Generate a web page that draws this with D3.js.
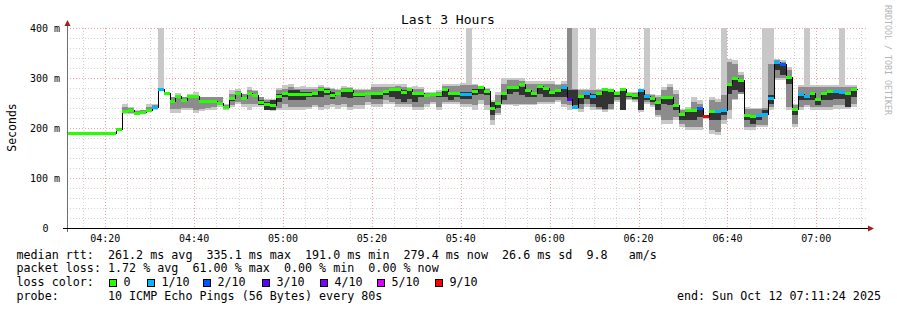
<!DOCTYPE html>
<html>
<head>
<meta charset="utf-8">
<script src="https://d3js.org/d3.v7.min.js"></script>
<style>
  html, body { margin: 0; padding: 0; background: #fff; }
  svg text { font-family: "DejaVu Sans Mono", monospace; white-space: pre; }
</style>
</head>
<body>
<svg class="chart"></svg>
<script>
// one entry per 80 s probe round, oldest first (ms)
var median = [
  191,191,191,191,191,191,191,191,191,199,
  234,237,231,233,236,243,279,271,255,265,
  257,265,265,255,255,255,251,243,261,271,
  261,271,267,253,249,247,265,271,268,268,
  268,269,270,279,275,267,270,277,277,269,
  269,271,271,271,275,278,278,273,279,271,
  271,266,269,268,278,271,271,269,269,275,
  283,274,241,251,270,283,283,288,276,271,
  285,281,273,277,283,258,243,264,271,265,
  271,278,276,271,278,269,267,277,265,261,
  253,263,263,247,229,236,236,241,224,235,
  234,237,289,299,295,227,225,226,229,261,
  333,328,303,239,269,265,271,259,271,275,
  275,272,271,278
];
// lost pings out of 10
var lossCount = [
  0,0,0,0,0,0,0,0,0,0,
  0,0,0,0,0,1,1,0,0,0,
  0,0,0,0,0,0,0,0,0,0,
  0,0,0,0,0,0,0,0,0,0,
  0,0,0,0,0,0,0,0,0,0,
  0,0,0,0,0,0,0,0,0,0,
  0,0,0,0,0,0,0,1,1,0,
  0,0,0,0,0,0,0,0,0,0,
  0,0,0,0,1,3,1,0,1,1,
  0,0,0,0,0,0,0,1,1,0,
  0,0,0,0,0,0,0,2,9,0,
  1,1,0,0,0,0,0,1,1,1,
  1,2,0,0,1,1,0,0,0,0,
  1,1,0,0
];
// smoke: spread of the 10 pings per round (ms)
var pingMax = [
  191,191,191,191,191,191,191,191,191,201,
  248,243,236,237,248,249,400,273,263,271,
  263,269,273,263,263,263,263,249,277,279,
  269,283,276,263,259,258,281,286,288,283,
  284,283,283,286,283,281,279,284,283,279,
  279,279,288,288,288,288,289,289,283,284,
  283,273,273,276,289,289,289,291,400,289,
  285,281,256,273,299,301,301,299,293,293,
  293,293,293,289,293,400,400,279,279,400,
  279,279,279,275,280,273,273,279,400,269,
  266,283,289,276,239,243,263,256,226,263,
  259,400,339,336,313,243,241,241,400,400,
  339,336,323,249,286,400,286,286,286,286,
  286,400,286,286
];
var pingUpper = [
  191,191,191,191,191,191,191,191,191,200,
  243,241,235,236,243,247,281,272,262,266,
  262,266,266,262,262,262,262,247,269,274,
  268,276,275,262,256,256,276,279,283,279,
  279,279,279,283,281,279,276,281,281,276,
  276,276,283,283,283,283,284,283,281,279,
  279,271,271,273,284,284,284,286,286,286,
  283,279,253,266,289,296,296,294,289,289,
  289,289,289,286,289,400,279,276,276,276,
  276,276,276,273,276,271,271,276,269,266,
  263,276,283,269,236,239,253,249,225,256,
  253,266,333,329,306,239,239,239,241,329,
  336,333,316,246,283,283,283,283,283,283,
  283,283,283,283
];
var coreHigh = [
  191,191,191,191,191,191,191,191,191,200,
  236,239,232,234,237,245,280,272,257,266,
  259,266,266,257,257,257,253,245,263,273,
  263,273,269,256,253,256,269,273,276,276,
  273,273,273,279,279,273,273,277,277,271,
  271,273,273,273,277,279,279,276,279,271,
  273,269,271,271,279,271,273,273,273,279,
  283,276,253,249,269,279,283,283,273,273,
  283,276,273,275,281,276,276,263,273,269,
  269,276,273,269,275,269,266,275,263,259,
  249,259,259,246,226,233,233,239,225,233,
  233,236,286,296,293,226,223,223,236,266,
  329,325,299,237,266,263,268,257,268,273,
  271,269,268,275
];
var coreLow = [
  191,191,191,191,191,191,191,191,191,198,
  233,235,230,232,235,241,278,270,253,263,
  255,263,263,253,253,253,249,241,255,266,
  259,266,263,246,236,236,253,263,256,256,
  256,263,263,263,266,259,266,263,261,263,
  263,266,259,259,266,263,259,253,259,253,
  263,263,266,263,263,256,263,259,259,266,
  269,266,226,240,256,269,273,266,263,263,
  269,263,263,263,263,256,246,249,259,249,
  243,239,249,263,236,263,259,236,256,253,
  236,249,246,236,216,216,216,223,223,216,
  216,226,269,276,273,216,209,216,226,249,
  316,306,289,226,256,256,256,246,256,256,
  259,259,243,263
];
var pingLower = [
  191,191,191,191,191,191,191,191,191,198,
  231,231,229,231,233,238,277,270,238,238,
  240,240,236,238,240,243,246,238,246,253,
  249,249,249,246,236,236,240,249,243,243,
  243,243,246,243,246,249,246,249,243,246,
  246,253,249,249,256,253,249,249,249,243,
  243,249,253,243,253,253,253,249,249,246,
  256,246,216,230,249,249,249,249,249,249,
  253,253,253,256,249,246,243,239,249,243,
  239,236,239,256,236,259,256,236,253,246,
  226,216,216,223,209,203,203,203,222,196,
  193,216,236,259,269,203,203,206,206,243,
  299,299,243,209,243,246,243,243,243,243,
  246,246,243,249
];
var pingMin = [
  191,191,191,191,191,191,191,191,191,197,
  229,229,229,230,232,236,276,269,231,231,
  236,236,231,234,236,236,243,236,243,249,
  243,236,243,243,236,234,236,236,236,236,
  236,239,243,236,239,243,239,243,236,239,
  239,246,243,243,249,249,243,243,243,236,
  236,243,249,236,249,249,249,243,243,236,
  249,236,206,226,246,246,244,246,246,246,
  249,249,249,253,243,236,239,233,243,236,
  236,233,236,253,236,256,253,233,249,243,
  223,209,209,216,203,196,196,196,219,189,
  186,209,219,256,269,196,196,203,203,236,
  296,296,236,203,236,243,236,236,236,236,
  239,239,239,243
];

var lossLevels = [0, 1, 2, 3, 4, 5, 9];
var lossLabels = ["0", "1/10", "2/10", "3/10", "4/10", "5/10", "9/10"];
var lossColors = ["#26ff00", "#00b8ff", "#0059ff", "#5e00ff", "#7e00ff", "#dd00ff", "#ff0000"];
var lossKeyX = [109, 147, 203, 262, 320, 377, 435];

var statsLines = [
  "median rtt:  261.2 ms avg  335.1 ms max  191.0 ms min  279.4 ms now  26.6 ms sd  9.8   am/s",
  "packet loss: 1.72 % avg  61.00 % max  0.00 % min  0.00 % now",
  "loss color:",
  "probe:       10 ICMP Echo Pings (56 Bytes) every 80s"
];

var W = 897, H = 310;
var start = new Date(2025, 9, 12, 4, 11, 24),
    end = new Date(2025, 9, 12, 7, 11, 24),
    firstStep = new Date(start.getTime() - 56000),
    stepMs = 80000;

var svg = d3.select(".chart").attr("width", W).attr("height", H);
svg.append("rect").attr("width", W).attr("height", H).attr("fill", "#fff");

var x = d3.scaleTime().domain([start, end]).range([67, 867]);
var y = d3.scaleLinear().domain([0, 400]).range([228, 28]);

function t0(i) { return new Date(firstStep.getTime() + i * stepMs); }
function px(d) { return Math.round(x(d)) + 0.5; }

// grid
var grid = svg.append("g").attr("shape-rendering", "crispEdges");
grid.selectAll(".hmin").data(y.ticks(20).filter(function(v) { return v % 100; }))
  .enter().append("line")
  .attr("x1", 67).attr("x2", 868)
  .attr("y1", function(d) { return y(d) + 0.5; }).attr("y2", function(d) { return y(d) + 0.5; })
  .attr("stroke", "#d2d2d2").attr("stroke-dasharray", "1,2");
var minorX = x.ticks(d3.timeMinute.every(5)).filter(function(d) { return d.getMinutes() % 20; });
grid.selectAll(".vmin").data(minorX).enter().append("line")
  .attr("x1", px).attr("x2", px).attr("y1", 28).attr("y2", 228)
  .attr("stroke", "#d2d2d2").attr("stroke-dasharray", "1,2");
grid.selectAll(".hmaj").data(y.ticks(4).filter(function(v) { return v > 0; }))
  .enter().append("line")
  .attr("x1", 67).attr("x2", 868)
  .attr("y1", function(d) { return y(d) + 0.5; }).attr("y2", function(d) { return y(d) + 0.5; })
  .attr("stroke", "#f0a0a0").attr("stroke-dasharray", "1,2");
grid.selectAll(".vmaj").data(x.ticks(d3.timeMinute.every(20))).enter().append("line")
  .attr("x1", px).attr("x2", px).attr("y1", 28).attr("y2", 228)
  .attr("stroke", "#f0a0a0").attr("stroke-dasharray", "1,2");

// plot clip
svg.append("defs").append("clipPath").attr("id", "clip")
  .append("rect").attr("x", 67).attr("y", 28).attr("width", 801).attr("height", 200);
var g = svg.append("g").attr("clip-path", "url(#clip)").attr("shape-rendering", "crispEdges");

var steps = d3.range(median.length);
function stepX(i) { return Math.round(x(t0(i))); }
function stepW(i) { return Math.round(x(t0(i + 1))) - Math.round(x(t0(i))); }

function band(lo, hi, color) {
  g.append("g").selectAll("rect").data(steps).enter().append("rect")
    .attr("x", stepX).attr("width", stepW)
    .attr("y", function(i) { return Math.round(y(hi[i])); })
    .attr("height", function(i) { return Math.round(y(lo[i])) - Math.round(y(hi[i])); })
    .attr("fill", color);
}
band(pingMin, pingMax, "#c8c8c8");
band(pingLower, pingUpper, "#8c8c8c");
band(coreLow, coreHigh, "#333333");

// median step line
var pts = steps.map(function(i) { return [x(t0(i)), median[i]]; });
pts.push([x(t0(median.length)), median[median.length - 1]]);
var line = d3.line().curve(d3.curveStepAfter)
  .x(function(d) { return Math.round(d[0]) + 0.5; })
  .y(function(d) { return Math.round(y(d[1])) + 0.5; });
g.append("path").datum(pts).attr("d", line)
  .attr("fill", "none").attr("stroke", "#000").attr("stroke-width", 1);

// median coloured by loss
g.append("g").selectAll("rect").data(steps).enter().append("rect")
  .attr("x", stepX).attr("width", stepW)
  .attr("y", function(i) { return Math.round(y(median[i])) - 1; })
  .attr("height", 3)
  .attr("fill", function(i) { return lossColors[lossLevels.indexOf(lossCount[i])]; });

// axes
var ax = svg.append("g").attr("shape-rendering", "crispEdges");
ax.append("line").attr("x1", 67.5).attr("x2", 67.5).attr("y1", 232).attr("y2", 25)
  .attr("stroke", "#6e6e6e");
ax.append("line").attr("x1", 63).attr("x2", 869).attr("y1", 228.5).attr("y2", 228.5)
  .attr("stroke", "#000");
svg.append("path").attr("d", "M868,225.5L874,228.5L868,231.5Z").attr("fill", "#a0201c");
svg.append("path").attr("d", "M64.5,26L67.5,20L70.5,26Z").attr("fill", "#a0201c");

// tick labels
svg.append("g").selectAll("text").data(y.ticks(4)).enter().append("text")
  .attr("x", function(d) { return d ? 60 : 48.5; })
  .attr("y", function(d) { return y(d) + 3.5; })
  .attr("text-anchor", "end").attr("font-size", 10).attr("fill", "#000")
  .text(function(d) { return d ? d + " m" : "0"; });
var fmt = d3.timeFormat("%H:%M");
svg.append("g").selectAll("text").data(x.ticks(d3.timeMinute.every(20))).enter().append("text")
  .attr("x", function(d) { return x(d); }).attr("y", 242)
  .attr("text-anchor", "middle").attr("font-size", 10).attr("fill", "#000")
  .text(fmt);

// titles
svg.append("text").attr("x", 448).attr("y", 24).attr("text-anchor", "middle")
  .attr("font-size", 13).text("Last 3 Hours");
svg.append("text").attr("transform", "translate(15.5,127.5) rotate(-90)")
  .attr("text-anchor", "middle").attr("font-size", 11.5).text("Seconds");
svg.append("text").attr("transform", "translate(884.5,5) rotate(90)")
  .attr("font-size", 8.3).attr("fill", "#b4b4b4").text("RRDTOOL / TOBI OETIKER");

// legend
var leg = svg.append("g").attr("font-size", 11.7);
leg.selectAll("text.row").data(statsLines).enter().append("text")
  .attr("x", 16.5).attr("y", function(d, i) { return 258.5 + i * 13.7; })
  .text(function(d) { return d; });
var keys = leg.selectAll("g.key").data(lossLabels).enter().append("g");
keys.append("rect")
  .attr("x", function(d, i) { return lossKeyX[i] + 0.5; }).attr("y", 279.5)
  .attr("width", 7).attr("height", 7)
  .attr("fill", function(d, i) { return lossColors[i]; })
  .attr("stroke", "#000").attr("stroke-width", 1).attr("shape-rendering", "crispEdges");
keys.append("text")
  .attr("x", function(d, i) { return lossKeyX[i] + 14.5; }).attr("y", 258.5 + 2 * 13.7)
  .text(function(d) { return d; });
leg.append("text").attr("x", 881).attr("y", 258.5 + 3 * 13.7).attr("text-anchor", "end")
  .text("end: Sun Oct 12 07:11:24 2025");
</script>
</body>
</html>
